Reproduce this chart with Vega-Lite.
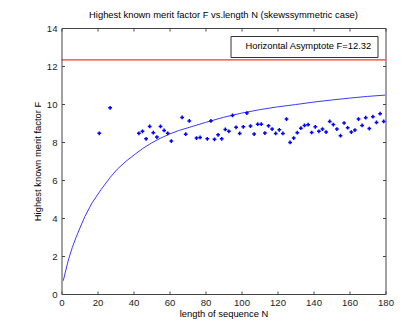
{
  "$schema": "https://vega.github.io/schema/vega-lite/v6.json",
  "width": 324,
  "height": 266,
  "autosize": {"type": "none"},
  "padding": {"left": 61.5, "top": 28, "right": 34.5, "bottom": 33},
  "background": "white",
  "title": {
    "text": "Highest known merit factor F vs.length N (skewssymmetric case)",
    "font": "Liberation Sans",
    "fontSize": 9.4,
    "fontWeight": "normal",
    "color": "#000000",
    "anchor": "middle",
    "offset": 3
  },
  "datasets": {
    "pts": [
      {"N": 21, "F": 8.46}, {"N": 27, "F": 9.8}, {"N": 43, "F": 8.46}, {"N": 45, "F": 8.56},
      {"N": 47, "F": 8.17}, {"N": 49, "F": 8.82}, {"N": 51, "F": 8.49}, {"N": 53, "F": 8.26},
      {"N": 55, "F": 8.82}, {"N": 57, "F": 8.61}, {"N": 59, "F": 8.46}, {"N": 61, "F": 8.05},
      {"N": 67, "F": 9.29}, {"N": 69, "F": 8.41}, {"N": 71, "F": 9.11}, {"N": 75, "F": 8.21},
      {"N": 77, "F": 8.24}, {"N": 81, "F": 8.17}, {"N": 83, "F": 9.11}, {"N": 85, "F": 8.14},
      {"N": 87, "F": 8.38}, {"N": 89, "F": 8.17}, {"N": 91, "F": 8.66}, {"N": 93, "F": 8.56},
      {"N": 95, "F": 9.4}, {"N": 97, "F": 8.77}, {"N": 99, "F": 8.45}, {"N": 101, "F": 8.8},
      {"N": 103, "F": 9.52}, {"N": 105, "F": 8.84}, {"N": 107, "F": 8.42}, {"N": 109, "F": 8.94},
      {"N": 111, "F": 8.94}, {"N": 113, "F": 8.47}, {"N": 115, "F": 8.85}, {"N": 117, "F": 8.68},
      {"N": 119, "F": 8.45}, {"N": 121, "F": 8.64}, {"N": 123, "F": 8.45}, {"N": 125, "F": 9.21},
      {"N": 127, "F": 7.98}, {"N": 129, "F": 8.21}, {"N": 131, "F": 8.49}, {"N": 133, "F": 8.73},
      {"N": 135, "F": 8.87}, {"N": 137, "F": 8.91}, {"N": 139, "F": 8.5}, {"N": 141, "F": 8.8},
      {"N": 143, "F": 8.56}, {"N": 145, "F": 8.68}, {"N": 147, "F": 8.52}, {"N": 149, "F": 9.08},
      {"N": 151, "F": 8.92}, {"N": 153, "F": 8.68}, {"N": 155, "F": 8.33}, {"N": 157, "F": 9.0},
      {"N": 159, "F": 8.75}, {"N": 161, "F": 8.52}, {"N": 163, "F": 8.63}, {"N": 165, "F": 9.21},
      {"N": 167, "F": 8.87}, {"N": 169, "F": 9.28}, {"N": 171, "F": 8.71}, {"N": 173, "F": 9.33},
      {"N": 175, "F": 9.03}, {"N": 177, "F": 9.49}, {"N": 179, "F": 9.08}
    ],
    "curve": [
      {"N": 1, "F": 0.7}, {"N": 2, "F": 1.1}, {"N": 4, "F": 1.85}, {"N": 6, "F": 2.45},
      {"N": 8, "F": 2.96}, {"N": 10, "F": 3.42}, {"N": 13, "F": 4.08}, {"N": 17, "F": 4.8},
      {"N": 22, "F": 5.5}, {"N": 27, "F": 6.13}, {"N": 31, "F": 6.57}, {"N": 36, "F": 7.0},
      {"N": 41, "F": 7.37}, {"N": 45, "F": 7.65}, {"N": 50, "F": 7.95}, {"N": 55, "F": 8.2},
      {"N": 60, "F": 8.42}, {"N": 65, "F": 8.6}, {"N": 72, "F": 8.8}, {"N": 80, "F": 9.03},
      {"N": 90, "F": 9.3}, {"N": 100, "F": 9.52}, {"N": 110, "F": 9.7}, {"N": 120, "F": 9.85},
      {"N": 130, "F": 9.97}, {"N": 140, "F": 10.1}, {"N": 150, "F": 10.21}, {"N": 160, "F": 10.31},
      {"N": 170, "F": 10.4}, {"N": 180, "F": 10.47}
    ],
    "asym": [{"F": 12.32, "label": "Horizontal Asymptote F=12.32"}]
  },
  "layer": [
    {
      "data": {"name": "curve"},
      "mark": {"type": "line", "color": "#3a3aff", "strokeWidth": 1, "clip": true},
      "encoding": {
        "x": {"field": "N", "type": "quantitative",
              "scale": {"domain": [0, 180], "nice": false, "zero": false},
              "axis": {"orient": "bottom", "values": [0, 20, 40, 60, 80, 100, 120, 140, 160, 180],
                       "title": "length of sequence N", "titlePadding": 2.5}},
        "y": {"field": "F", "type": "quantitative",
              "scale": {"domain": [0, 14], "nice": false, "zero": false},
              "axis": {"orient": "left", "values": [0, 2, 4, 6, 8, 10, 12, 14],
                       "title": "Highest known merit factor F", "titlePadding": 4}}
      }
    },
    {
      "data": {"name": "pts"},
      "mark": {"type": "point", "shape": "cross", "filled": true, "size": 14, "color": "#0000ff", "opacity": 1},
      "encoding": {
        "x": {"field": "N", "type": "quantitative", "axis": null},
        "y": {"field": "F", "type": "quantitative", "axis": null}
      }
    },
    {
      "data": {"name": "asym"},
      "mark": {"type": "rule", "strokeWidth": 1},
      "encoding": {
        "y": {"field": "F", "type": "quantitative", "axis": null},
        "color": {"field": "label", "type": "nominal",
                  "scale": {"range": ["#ff0000"]},
                  "legend": {"title": null, "orient": "top-right", "offset": 8}}
      }
    },
    {
      "data": {"name": "curve"},
      "mark": {"type": "point", "opacity": 0},
      "encoding": {
        "x": {"field": "N", "type": "quantitative",
              "axis": {"orient": "top", "values": [0, 20, 40, 60, 80, 100, 120, 140, 160, 180],
                       "labels": false, "title": null}},
        "y": {"field": "F", "type": "quantitative",
              "axis": {"orient": "right", "values": [0, 2, 4, 6, 8, 10, 12, 14],
                       "labels": false, "title": null}}
      }
    }
  ],
  "resolve": {"axis": {"x": "independent", "y": "independent"}},
  "config": {
    "view": {"stroke": null},
    "axis": {
      "grid": false,
      "domainColor": "#444444",
      "domainWidth": 1,
      "tickColor": "#444444",
      "tickSize": -3,
      "labelFlush": false,
      "labelOverlap": false,
      "labelFont": "Liberation Sans",
      "labelFontSize": 9.6,
      "labelColor": "#222222",
      "titleFont": "Liberation Sans",
      "titleFontSize": 9.4,
      "titleFontWeight": "normal",
      "titleColor": "#000000"
    },
    "axisLeft": {"labelPadding": 7.5},
    "axisBottom": {"labelPadding": 6},
    "legend": {
      "labelFont": "Liberation Sans",
      "labelFontSize": 9.4,
      "labelColor": "#000000",
      "strokeColor": "#333333",
      "fillColor": "#ffffff",
      "padding": 5.5,
      "cornerRadius": 0,
      "symbolSize": 0,
      "symbolOpacity": 0,
      "symbolStrokeWidth": 0,
      "labelOffset": 0
    }
  }
}
